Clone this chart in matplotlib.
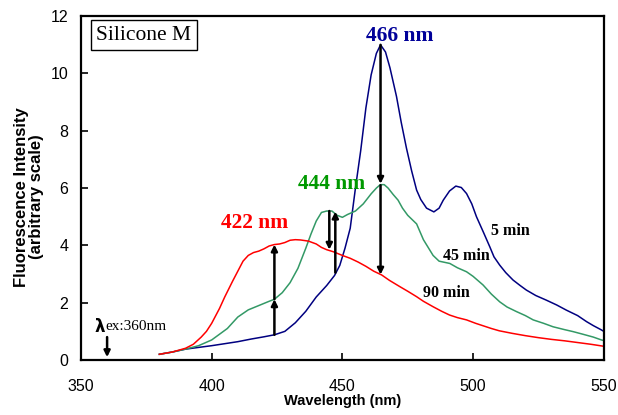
import matplotlib
matplotlib.use("Agg")
import matplotlib.pyplot as plt

# emission spectra of Silicone M (excitation 360 nm)
wl_5min = [380, 385, 390, 395, 400, 405, 410, 415, 420, 424, 428, 432, 436, 440, 444,
           447, 449, 451, 453, 455, 457, 459, 461, 463, 464.6, 466.5, 468.2, 470.7,
           472.5, 474.5, 476.5, 478.4, 480, 482.2, 485, 487, 488.6, 491, 493.4, 495.5,
           497.5, 499.5, 501.3, 504, 506.4, 508, 510.2, 512.5, 515.3, 518, 520.4, 524,
           528, 532, 535.7, 540, 543.4, 546, 549.1, 550]
int_5min = [0.2, 0.28, 0.38, 0.44, 0.5, 0.57, 0.64, 0.73, 0.81, 0.88, 1.0, 1.3, 1.7, 2.2, 2.6,
            2.95, 3.3, 3.9, 4.6, 6.0, 7.3, 8.8, 9.95, 10.7, 11.0, 10.75, 10.2, 9.2,
            8.3, 7.4, 6.6, 5.93, 5.6, 5.3, 5.17, 5.3, 5.58, 5.9, 6.07, 6.02,
            5.81, 5.45, 5.0, 4.45, 3.95, 3.6, 3.31, 3.05, 2.79, 2.6, 2.44, 2.25,
            2.09, 1.92, 1.74, 1.55, 1.34, 1.2, 1.05, 1.0]

wl_45min = [380, 385, 390, 395, 400, 403, 406, 410, 414, 418, 422, 424, 427, 430, 433, 436,
            438, 440, 442, 444, 446, 448, 450, 452, 455, 458, 461, 463, 464.5, 466, 467.5, 469.4,
            471.3, 473, 475, 478.4, 481, 484.7, 487, 491.1, 494, 497.5, 500, 503.8, 507,
            510.2, 513, 516.6, 520, 523, 527, 530.6, 535, 538.3, 542, 546, 549.1, 550]
int_45min = [0.2, 0.28, 0.38, 0.5, 0.7, 0.9, 1.1, 1.5, 1.75, 1.9, 2.05, 2.12, 2.35, 2.7, 3.2, 3.9,
             4.4, 4.85, 5.15, 5.2, 5.2, 5.05, 4.98, 5.08, 5.2, 5.45, 5.8, 6.0, 6.12, 6.12, 6.0, 5.78,
             5.58, 5.3, 5.05, 4.75, 4.2, 3.65, 3.45, 3.37, 3.22, 3.08, 2.92, 2.62, 2.3,
             2.03, 1.85, 1.69, 1.55, 1.4, 1.28, 1.16, 1.06, 0.99, 0.9, 0.8, 0.7, 0.68]

wl_90min = [380, 385, 390, 393, 396, 398, 400, 403, 405, 408, 410, 412, 414, 416, 418, 420,
            422, 424, 426, 428, 430, 432, 434, 437, 440, 442, 444, 446.5, 450, 453, 456,
            459, 462, 465, 468, 472, 475, 478.4, 481, 484.7, 488, 491, 494, 497.5, 501,
            504, 507, 510, 515, 520, 525, 530, 535, 540, 545, 550]
int_90min = [0.2, 0.28, 0.41, 0.55, 0.8, 1.0, 1.28, 1.8, 2.2, 2.75, 3.1, 3.45, 3.65, 3.75, 3.8, 3.88,
             3.98, 4.03, 4.05, 4.1, 4.18, 4.2, 4.19, 4.15, 4.05, 3.93, 3.85, 3.78, 3.65, 3.55, 3.42,
             3.27, 3.1, 2.97, 2.78, 2.56, 2.4, 2.21, 2.05, 1.86, 1.7, 1.57, 1.48, 1.4, 1.28,
             1.19, 1.1, 1.02, 0.93, 0.85, 0.78, 0.72, 0.67, 0.61, 0.55, 0.48]

# arrows: (x, y_from, y_to)
arrows = [(424, 0.88, 2.12), (424, 2.12, 4.03),
          (445, 5.2, 3.85), (447.3, 3.05, 5.18),
          (464.6, 11.0, 6.15), (464.6, 6.1, 2.98),
          (360, 0.8, 0.1)]

SERIF = "Liberation Serif"
SANS = "Liberation Sans"
NAVY = "#000080"
SEAGREEN = "#339966"
RED = "#ff0000"

fig = plt.figure(figsize=(6.18, 4.15), dpi=100)
ax = fig.add_axes([0.131, 0.1325, 0.846, 0.8285])

ax.plot(wl_5min, int_5min, color=NAVY, lw=1.1)
ax.plot(wl_45min, int_45min, color=SEAGREEN, lw=1.1)
ax.plot(wl_90min, int_90min, color=RED, lw=1.1)

for x, y0, y1 in arrows:
    ax.annotate("", xy=(x, y1), xytext=(x, y0),
                arrowprops=dict(arrowstyle="-|>", color="black", lw=1.8,
                                mutation_scale=9, shrinkA=0, shrinkB=0))

ax.text(472, 11.3, "466 nm", color="#000099", fontsize=15.5, fontweight="bold",
        family=SERIF, ha="center", va="center")
ax.text(446, 6.16, "444 nm", color="#009900", fontsize=15.5, fontweight="bold",
        family=SERIF, ha="center", va="center")
ax.text(416.5, 4.79, "422 nm", color=RED, fontsize=15.5, fontweight="bold",
        family=SERIF, ha="center", va="center")

ax.text(514.3, 4.5, "5 min", fontsize=11.5, fontweight="bold", family=SERIF,
        ha="center", va="center")
ax.text(497.5, 3.64, "45 min", fontsize=11.5, fontweight="bold", family=SERIF,
        ha="center", va="center")
ax.text(489.6, 2.35, "90 min", fontsize=11.5, fontweight="bold", family=SERIF,
        ha="center", va="center")

ax.text(355, 1.16, r"$\mathbf{\lambda}$", fontsize=12, family=SERIF, ha="left", va="center")
ax.text(359.2, 1.16, "ex:360nm", fontsize=11, family=SERIF, ha="left", va="center")

ax.text(0.029, 0.945, "Silicone M", transform=ax.transAxes, fontsize=15.5,
        family=SERIF, ha="left", va="center",
        bbox=dict(boxstyle="square,pad=0.25", fc="white", ec="black", lw=1))

ax.set_xlim(350, 550)
ax.set_ylim(0, 12)
ax.set_xticks([350, 400, 450, 500, 550])
ax.set_yticks([0, 2, 4, 6, 8, 10, 12])
ax.tick_params(direction="in", length=5, width=1.2, labelsize=11.5)
ax.tick_params(axis="x", pad=14)
ax.tick_params(axis="y", pad=9)
for lab in ax.get_xticklabels() + ax.get_yticklabels():
    lab.set_family(SANS)
for sp in ax.spines.values():
    sp.set_linewidth(1.6)

ax.set_xlabel("Wavelength (nm)", fontsize=10.5, fontweight="bold", family=SANS)
ax.xaxis.set_label_coords(0.5, -0.1)
fig.text(29 / 618, 1 - 197 / 415, "Fluorescence Intensity\n(arbitrary scale)",
         rotation=90, fontsize=12, fontweight="bold", family=SANS,
         ha="center", va="center", linespacing=1.0)

fig.savefig("out.png", dpi=100)
